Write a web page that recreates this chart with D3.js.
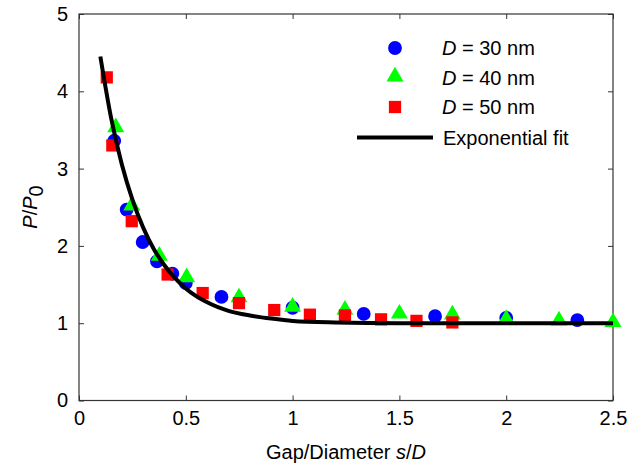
<!DOCTYPE html>
<html>
<head>
<meta charset="utf-8">
<script src="https://cdn.jsdelivr.net/npm/d3@7"></script>
<style>
  body { margin: 0; background: #fff; }
  text { font-family: "Liberation Sans", Arial, sans-serif; fill: #000; }
</style>
</head>
<body>
<svg id="chart" width="630" height="469"></svg>
<script>
// D = 30 nm (blue circles)
var x30 = [0.165, 0.223, 0.298, 0.365, 0.437, 0.50, 0.667, 1.0, 1.333, 1.667, 2.0, 2.333];
var y30 = [3.36, 2.47, 2.05, 1.80, 1.64, 1.52, 1.34, 1.20, 1.12, 1.09, 1.07, 1.04];
// D = 40 nm (green triangles)
var x40 = [0.172, 0.247, 0.376, 0.504, 0.749, 1.0, 1.245, 1.5, 1.748, 2.0, 2.247, 2.5];
var y40 = [3.52, 2.51, 1.86, 1.58, 1.32, 1.20, 1.16, 1.11, 1.10, 1.04, 1.02, 1.00];
// D = 50 nm (red squares)
var x50 = [0.13, 0.156, 0.247, 0.415, 0.579, 0.749, 0.914, 1.081, 1.245, 1.414, 1.58, 1.748];
var y50 = [4.18, 3.30, 2.32, 1.63, 1.39, 1.26, 1.17, 1.11, 1.10, 1.05, 1.03, 1.01];
// exponential fit, points
var xFit = [0.10, 0.15, 0.20, 0.25, 0.30, 0.35, 0.40, 0.50, 0.60, 0.70, 0.80, 0.90, 1.0, 1.2, 1.5, 2.0, 2.5];
var yFit = [4.45, 3.66, 3.06, 2.60, 2.24, 1.96, 1.75, 1.45, 1.27, 1.16, 1.10, 1.06, 1.03, 1.01, 1.00, 1.00, 1.00];

var xTicks = [0, 0.5, 1, 1.5, 2, 2.5];
var yTicks = [0, 1, 2, 3, 4, 5];

var svg = d3.select("#chart"),
    pLeft = 79, pRight = 613, pTop = 14, pBottom = 400.5;

var x = d3.scaleLinear().domain([0, 2.5]).range([pLeft, pRight]);
var y = d3.scaleLinear().domain([0, 5]).range([pBottom, pTop]);

var axisColor = "#333";

// ticks on all four sides, pointing in
function styleAxis(g) {
    g.select(".domain").remove();
    g.selectAll(".tick line").attr("stroke", axisColor);
    g.selectAll(".tick text").style("font-size", "20px").attr("fill", "#000");
}
svg.append("g").attr("transform", "translate(0," + pBottom + ")")
    .call(d3.axisBottom(x).tickValues(xTicks).tickSizeInner(-5).tickSizeOuter(0).tickPadding(10).tickFormat(d3.format("")))
    .call(styleAxis);
svg.append("g").attr("transform", "translate(0," + pTop + ")")
    .call(d3.axisTop(x).tickValues(xTicks).tickSizeInner(-5).tickSizeOuter(0).tickFormat(""))
    .call(styleAxis);
svg.append("g").attr("transform", "translate(" + pLeft + ",0)")
    .call(d3.axisLeft(y).tickValues(yTicks).tickSizeInner(-5).tickSizeOuter(0).tickPadding(11).tickFormat(d3.format("d")))
    .call(styleAxis);
svg.append("g").attr("transform", "translate(" + pRight + ",0)")
    .call(d3.axisRight(y).tickValues(yTicks).tickSizeInner(-5).tickSizeOuter(0).tickFormat(""))
    .call(styleAxis);

svg.append("rect")
    .attr("x", pLeft).attr("y", pTop)
    .attr("width", pRight - pLeft).attr("height", pBottom - pTop)
    .attr("fill", "none").attr("stroke", axisColor).attr("stroke-width", 1.2);

var plot = svg.append("g");

var circle = d3.symbol().type(d3.symbolCircle).size(150);
var tri = d3.symbol().type(d3.symbolTriangle).size(125);
var sq = d3.symbol().type(d3.symbolSquare).size(150);

plot.selectAll(".d30").data(d3.zip(x30, y30)).enter().append("path")
    .attr("d", circle)
    .attr("transform", function(d) { return "translate(" + x(d[0]) + "," + y(d[1]) + ")"; })
    .attr("fill", "#0000ff");
plot.selectAll(".d40").data(d3.zip(x40, y40)).enter().append("path")
    .attr("d", tri)
    .attr("transform", function(d) { return "translate(" + x(d[0]) + "," + (y(d[1]) - 1) + ")"; })
    .attr("fill", "#00ff00");
plot.selectAll(".d50").data(d3.zip(x50, y50)).enter().append("path")
    .attr("d", sq)
    .attr("transform", function(d) { return "translate(" + x(d[0]) + "," + y(d[1]) + ")"; })
    .attr("fill", "#ff0000");

var line = d3.line()
    .x(function(d) { return x(d[0]); })
    .y(function(d) { return y(d[1]); })
    .curve(d3.curveMonotoneX);

plot.append("path")
    .datum(d3.zip(xFit, yFit))
    .attr("d", line)
    .attr("fill", "none")
    .attr("stroke", "#000")
    .attr("stroke-width", 4);

// legend
var legend = svg.append("g");
var items = [
    { sym: circle, color: "#0000ff", label: "30 nm" },
    { sym: tri, color: "#00ff00", label: "40 nm" },
    { sym: sq, color: "#ff0000", label: "50 nm" }
];
items.forEach(function(it, i) {
    var ly = 48 + i * 29.5;
    legend.append("path").attr("d", it.sym)
        .attr("transform", "translate(395," + (i == 1 ? ly - 1 : ly) + ")")
        .attr("fill", it.color);
    var t = legend.append("text").attr("x", 442).attr("y", ly + 7).style("font-size", "20px");
    t.append("tspan").style("font-style", "italic").text("D");
    t.append("tspan").text(" = " + it.label);
});
legend.append("line")
    .attr("x1", 357).attr("x2", 433).attr("y1", 137.5).attr("y2", 137.5)
    .attr("stroke", "#000").attr("stroke-width", 4);
legend.append("text").attr("x", 443).attr("y", 144.5).style("font-size", "20px").text("Exponential fit");

// axis titles
var xt = svg.append("text").attr("x", 346).attr("y", 459).attr("text-anchor", "middle").style("font-size", "20px");
xt.append("tspan").text("Gap/Diameter ");
xt.append("tspan").style("font-style", "italic").text("s");
xt.append("tspan").text("/");
xt.append("tspan").style("font-style", "italic").text("D");

var yt = svg.append("text")
    .attr("transform", "translate(37,207) rotate(-90)")
    .attr("text-anchor", "middle").style("font-size", "20px");
yt.append("tspan").style("font-style", "italic").text("P");
yt.append("tspan").text("/");
yt.append("tspan").style("font-style", "italic").text("P");
yt.append("tspan").attr("dy", 6).style("font-size", "20px").text("0");
</script>
</body>
</html>
